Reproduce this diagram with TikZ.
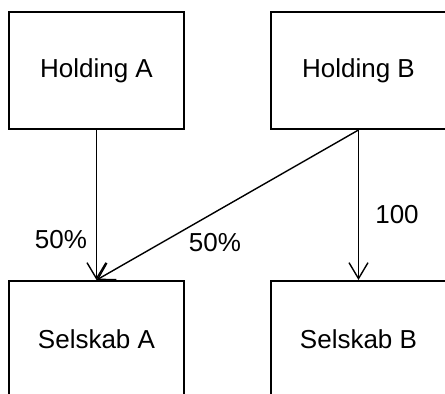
\documentclass[tikz,border=0pt]{standalone}
\usepackage{fontspec}
\setmainfont{Liberation Sans}
\usetikzlibrary{arrows.meta}
\begin{document}
\begin{tikzpicture}[x=1pt,y=-1pt,
  entity/.style={draw, line width=2pt, minimum width=175pt, minimum height=117pt,
    inner sep=0pt, font=\fontsize{26}{31}\selectfont},
  owns/.style={line width=1.4pt, -{Straight Barb[length=16pt,width=19pt,line width=1.4pt]}},
  pct/.style={font=\fontsize{26}{31}\selectfont, inner sep=0pt}]
  \useasboundingbox (0,0) rectangle (445,394);
  % companies
  \node[entity] (ha) at (96.5,70.5) {Holding A};
  \node[entity] (hb) at (358.5,70.5) {Holding B};
  \node[entity] (sa) at (96.5,339.5) {Selskab A};
  \node[entity] (sb) at (358.5,339.5) {Selskab B};
  % ownership links
  \draw[owns] (ha.south) -- (sa.north);
  \draw[owns] (hb.south) -- (sa.north);
  \draw[owns] (hb.south) -- (sb.north);
  % shares
  \node[pct] (la) at (61,240) {50\%};
  \node[pct] (lm) at (215,243) {50\%};
  \node[pct] (lb) at (397,215) {100};
\end{tikzpicture}
\end{document}
